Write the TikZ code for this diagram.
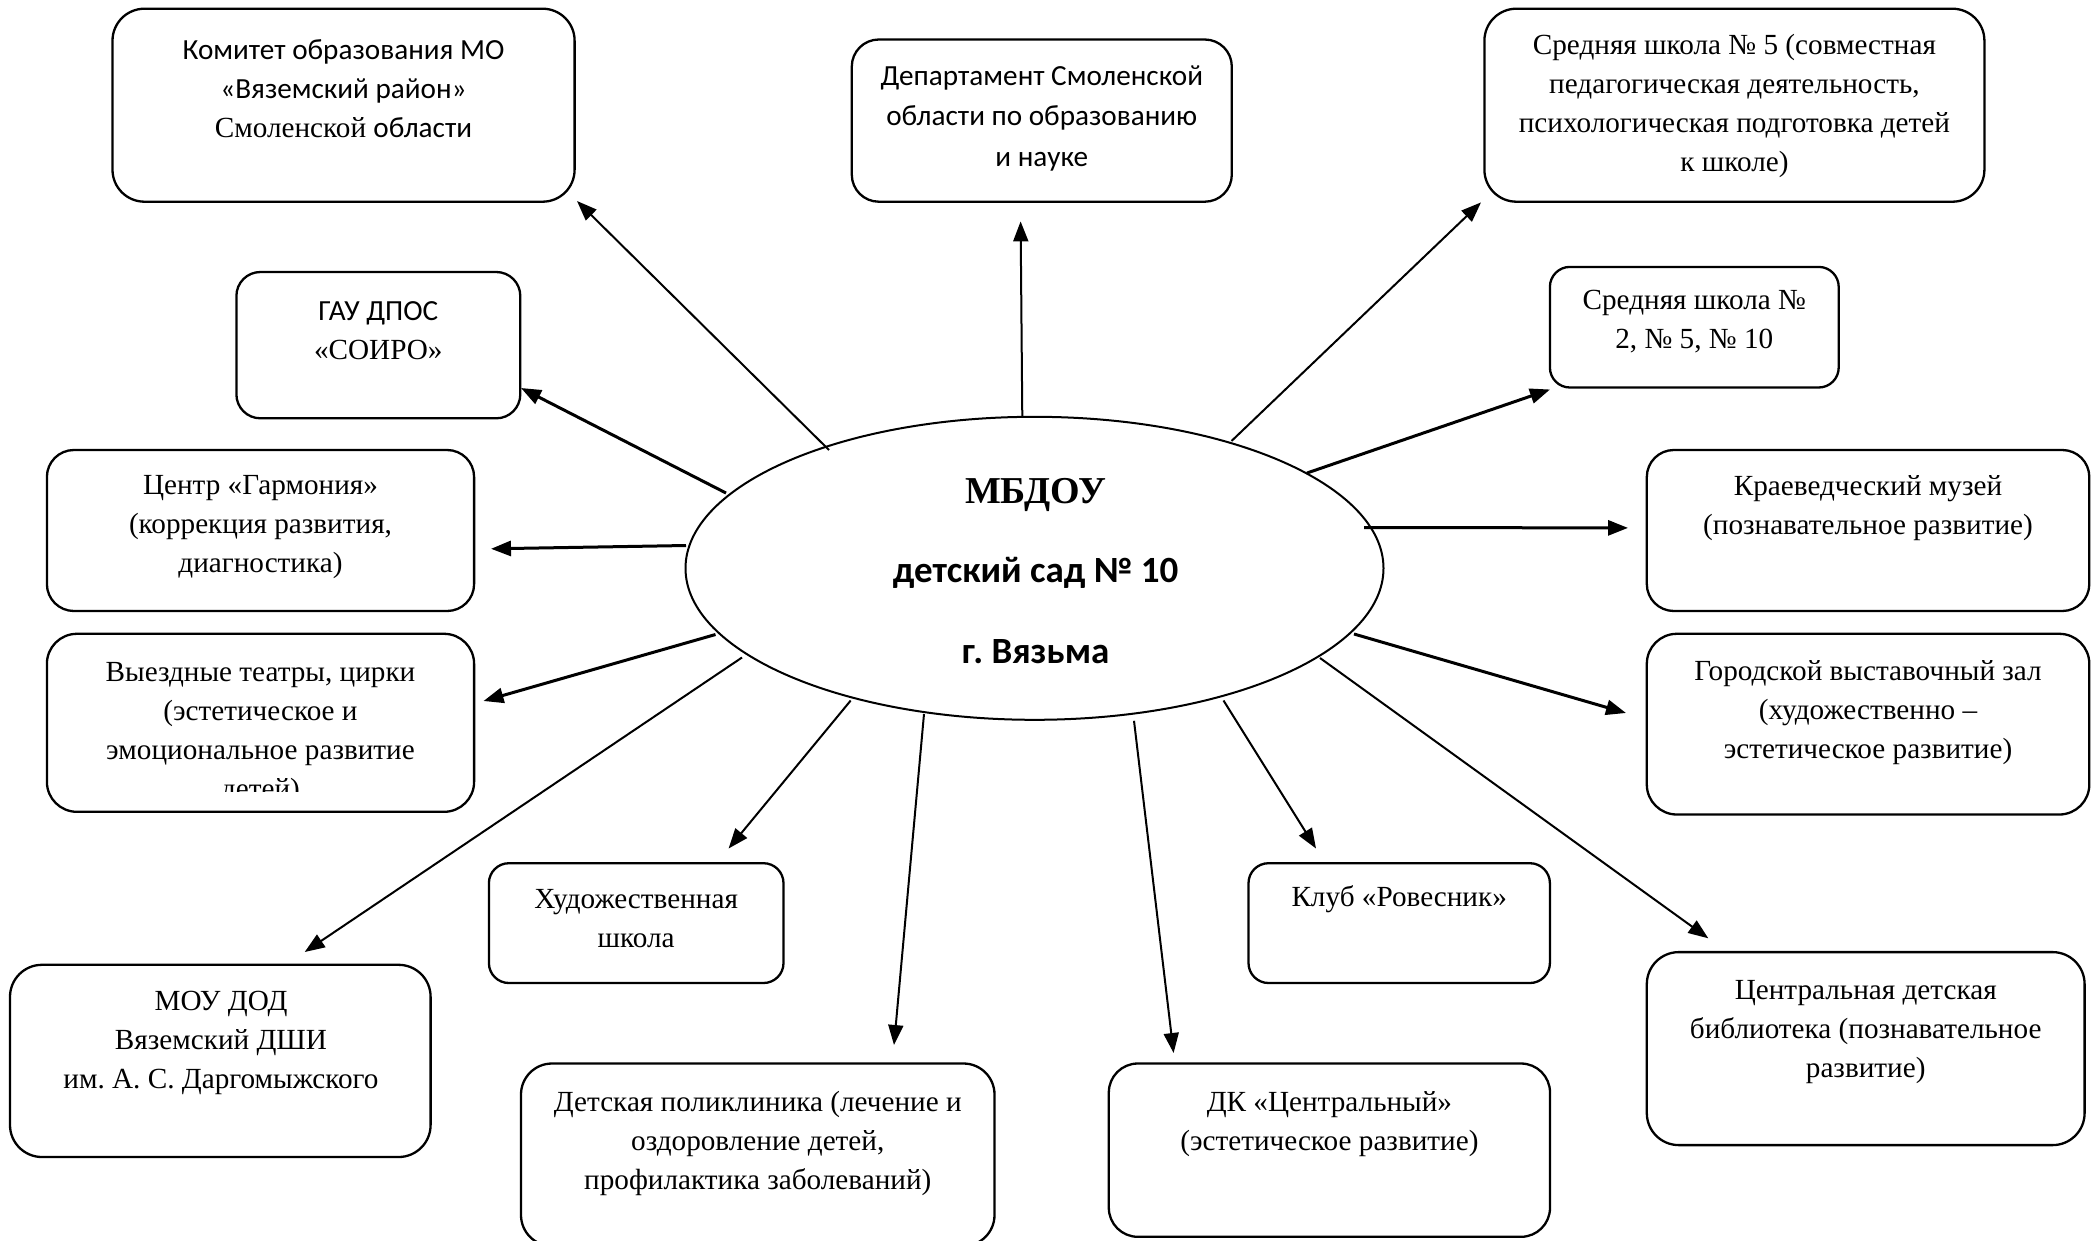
\documentclass[tikz,border=0pt]{standalone}
\usepackage{fontspec}
\setmainfont{Liberation Serif}
\newfontfamily\calf{Carlito}
\usetikzlibrary{arrows.meta,shapes.geometric}
\frenchspacing
\newcommand\mybox[6]{%
  \node[boxst, rounded corners=#6, minimum width={#4-#2}, minimum height={#5-#3}] (#1) at ({(#2+#4)/2},{(#3+#5)/2}) {};}
\begin{document}
\begin{tikzpicture}[x=1pt,y=-1pt,
  boxst/.style={draw, line width=2.3pt, inner sep=0pt, outer sep=0pt},
  txt/.style={align=center, inner sep=0pt, font=\fontsize{29.2}{39}\selectfont},
  arr/.style={-{Triangle[length=20pt,width=15pt]}, line width=2pt},
  arrb/.style={-{Triangle[length=20pt,width=15pt]}, line width=3pt}]
\useasboundingbox (0,0) rectangle (2098,1240);
\fill[white] (0,0) rectangle (2098,1240);

% centre
\node[draw, ellipse, line width=2pt, inner sep=0pt, minimum width=698pt, minimum height=303pt] (e) at (1034.5,568.3) {};
\node[font=\fontsize{38}{42}\selectfont\bfseries, inner sep=0pt] (e1) at (1035.6,495) {МБДОУ};
\node[font=\fontsize{37}{42}\selectfont\calf\bfseries, inner sep=0pt] (e2) at (1035.6,572.6) {детский сад № 10};
\node[font=\fontsize{37}{42}\selectfont\calf\bfseries, inner sep=0pt] (e3) at (1035.6,651.6) {г. Вязьма};

% boxes
\mybox{kom}{112.5}{8.7}{574.6}{201.7}{32pt}
\mybox{dep}{851.8}{39.5}{1231.8}{201.7}{27pt}
\mybox{shA}{1484.4}{8.7}{1984.4}{201.7}{32pt}
\mybox{gau}{236.4}{272}{520.3}{418.3}{24pt}
\mybox{shB}{1549.9}{266.9}{1838.7}{387.5}{20pt}
\mybox{cen}{46.9}{450}{474.1}{611}{27pt}
\mybox{kra}{1646.8}{450}{2089.3}{611}{27pt}
\mybox{vyez}{46.9}{633.8}{474.1}{811.8}{30pt}
\mybox{gor}{1646.8}{633.8}{2089.3}{814.5}{30pt}
\mybox{hud}{488.9}{863.2}{783.5}{983}{20pt}
\mybox{klub}{1248.5}{863.2}{1549.9}{983}{20pt}
\mybox{mou}{10}{964.8}{430.6}{1157}{32pt}
\mybox{bib}{1646.8}{952.1}{2084.6}{1145.1}{32pt}
\mybox{pol}{521}{1063.5}{994.5}{1246}{31pt}
\mybox{dk}{1108.8}{1063.5}{1550}{1236.8}{29pt}

% texts
\node[txt] (komt) at (343.5,88.7) {{\calf Комитет образования МО}\\{\calf «Вяземский район»}\\Смоленской {\calf области}};
\node[txt, font=\fontsize{29.2}{40.5}\selectfont\calf] (dept) at (1041.8,118.2) {Департамент Смоленской\\области по образованию\\и науке};
\node[txt] (shAt) at (1734.4,106) {Средняя школа № 5 (совместная\\педагогическая деятельность,\\психологическая подготовка детей\\к школе)};
\node[txt] (gaut) at (378.3,331) {{\calf ГАУ ДПОС}\\«СОИРО»};
\node[txt] (shBt) at (1694.3,322) {Средняя школа №\\2, № 5, № 10};
\node[txt] (cent) at (260.5,527) {Центр «Гармония»\\(коррекция развития,\\диагностика)};
\node[txt] (krat) at (1868,508) {Краеведческий музей\\(познавательное развитие)};
\begin{scope}
\clip (46.9,633.8) rectangle (474.1,791);
\node[txt] (vyezt) at (260.5,734) {Выездные театры, цирки\\(эстетическое и\\эмоциональное развитие\\детей)};
\end{scope}
\node[txt] (gort) at (1868,712.5) {Городской выставочный зал\\(художественно –\\эстетическое развитие)};
\node[txt] (hudt) at (636.2,919) {Художественная\\школа};
\node[txt] (klubt) at (1399.2,899.5) {Клуб «Ровесник»};
\node[txt] (mout) at (221,1043) {МОУ ДОД\\Вяземский ДШИ\\им. А. С. Даргомыжского};
\node[txt] (bibt) at (1865.7,1032) {Центральная детская\\библиотека (познавательное\\развитие)};
\node[txt] (polt) at (757.8,1143) {Детская поликлиника (лечение и\\оздоровление детей,\\профилактика заболеваний)};
\node[txt] (dkt) at (1329.4,1124) {ДК «Центральный»\\(эстетическое развитие)};

% connector ends
\coordinate (s1) at (829,450);     \coordinate (t1) at (577,201);
\coordinate (s2) at (726,493);     \coordinate (t2) at (521,388);
\coordinate (s3) at (686,545.5);   \coordinate (t3) at (491,548.8);
\coordinate (s4) at (715.5,634.5); \coordinate (t4) at (483.5,701);
\coordinate (s5) at (742,657.5);   \coordinate (t5) at (304.7,952);
\coordinate (s6) at (850.7,700.5); \coordinate (t6) at (728.6,848.5);
\coordinate (s7) at (924,714);     \coordinate (t7) at (894,1045);
\coordinate (s8) at (1134,720.8);  \coordinate (t8) at (1173.6,1053);
\coordinate (s9) at (1223.5,700.5);\coordinate (t9) at (1316,848.5);
\coordinate (s10) at (1320,658);   \coordinate (t10) at (1708.3,938.3);
\coordinate (s11) at (1354,634);   \coordinate (t11) at (1626,713);
\coordinate (s12) at (1364,527.5); \coordinate (t12) at (1628,527.9);
\coordinate (s13) at (1307,473);   \coordinate (t13) at (1550,389.5);
\coordinate (s14) at (1231.5,441); \coordinate (t14) at (1481,202.4);
\coordinate (s15) at (1022.3,417.5);\coordinate (t15) at (1020.6,221.4);

\draw[arr]  (s1) -- (t1);
\draw[arrb] (s2) -- (t2);
\draw[arrb] (s3) -- (t3);
\draw[arrb] (s4) -- (t4);
\draw[arr]  (s5) -- (t5);
\draw[arr]  (s6) -- (t6);
\draw[arr]  (s7) -- (t7);
\draw[arr]  (s8) -- (t8);
\draw[arr]  (s9) -- (t9);
\draw[arr]  (s10) -- (t10);
\draw[arrb] (s11) -- (t11);
\draw[arrb] (s12) -- (t12);
\draw[arrb] (s13) -- (t13);
\draw[arr]  (s14) -- (t14);
\draw[arr]  (s15) -- (t15);
\end{tikzpicture}
\end{document}
